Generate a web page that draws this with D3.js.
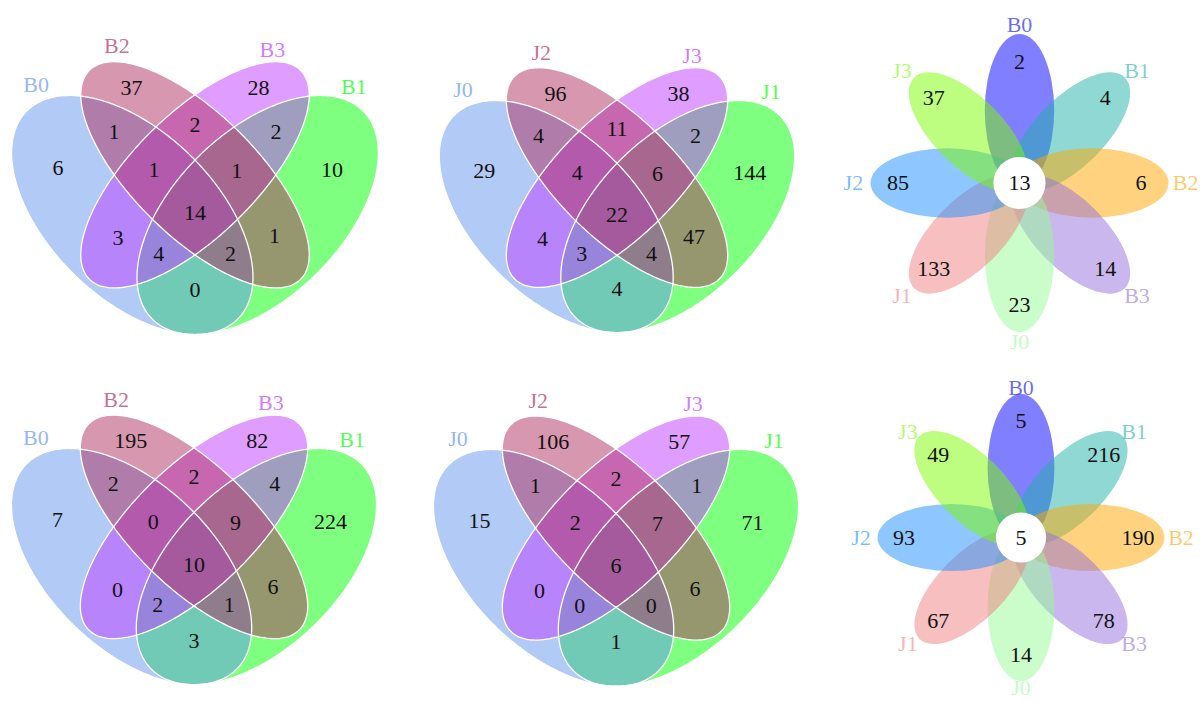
<!DOCTYPE html>
<html>
<head>
<meta charset="utf-8">
<script src="https://cdn.jsdelivr.net/npm/d3@7"></script>
<style>
  html, body { margin: 0; padding: 0; background: #ffffff; }
  svg { display: block; }
  text { font-family: "Liberation Serif", "Times New Roman", serif; }
</style>
</head>
<body>
<svg id="chart" width="1200" height="702"></svg>
<script>
// ---- Four-set Venn diagrams ----
// Set names in slot order: outer-left, inner-left, inner-right, outer-right
const vennSetsB = ["B0", "B2", "B3", "B1"];
const vennSetsJ = ["J0", "J2", "J3", "J1"];

// Region membership (slot indexes); the count arrays follow this order
const vennRegions = [
  [0], [1], [2], [3],
  [0, 1], [1, 2], [2, 3],
  [0, 1, 2], [1, 2, 3], [0, 1, 2, 3],
  [0, 2], [0, 2, 3], [0, 1, 3], [1, 3], [0, 3]
];
const countsBTop    = [6, 37, 28, 10, 1, 2, 2, 1, 1, 14, 3, 4, 2, 1, 0];
const countsJTop    = [29, 96, 38, 144, 4, 11, 2, 4, 6, 22, 4, 3, 4, 47, 4];
const countsBBottom = [7, 195, 82, 224, 2, 2, 4, 0, 9, 10, 0, 2, 1, 6, 3];
const countsJBottom = [15, 106, 57, 71, 1, 2, 1, 2, 7, 6, 0, 0, 0, 6, 1];

// ---- Flower diagrams ----
// Petals clockwise from the top
const flowerSets   = ["B0", "B1", "B2", "B3", "J0", "J1", "J2", "J3"];
const flowerTop    = [2, 4, 6, 14, 23, 133, 85, 37];
const flowerBottom = [5, 216, 190, 78, 14, 67, 93, 49];
const coreTop = 13;
const coreBottom = 5;

// ---------------------------------------------------------------
const svg = d3.select("#chart");
svg.append("rect").attr("width", 1200).attr("height", 702).attr("fill", "#ffffff");

const FONT = 22;

// Venn geometry in unit space (y up)
const vennEllipses = [
  { x: 0.35, y: 0.470, a: 0.356, b: 0.200, rot: 135 },
  { x: 0.50, y: 0.567, a: 0.357, b: 0.148, rot: 135 },
  { x: 0.50, y: 0.567, a: 0.357, b: 0.148, rot: 45 },
  { x: 0.65, y: 0.470, a: 0.356, b: 0.200, rot: 45 }
];
const vennFill = ["#6495ED", "#B03060", "#BF3EFF", "#00FF00"];
const vennDrawOrder = [3, 0, 2, 1];
const regionPos = [
  [0.172, 0.585], [0.348, 0.777], [0.652, 0.777], [0.828, 0.580],
  [0.306, 0.672], [0.500, 0.689], [0.694, 0.672],
  [0.402, 0.580], [0.600, 0.578], [0.500, 0.476],
  [0.316, 0.415], [0.413, 0.378], [0.585, 0.378], [0.690, 0.420], [0.500, 0.290]
];
const catPos = [[0.120, 0.785], [0.313, 0.879], [0.685, 0.870], [0.880, 0.780]];

function ellipsePoints(e) {
  const R = e.rot * Math.PI / 180;
  return d3.range(0, 360, 2).map(d => {
    const t = d * Math.PI / 180;
    return [
      e.x + e.a * Math.cos(t) * Math.cos(R) - e.b * Math.sin(t) * Math.sin(R),
      e.y + e.a * Math.cos(t) * Math.sin(R) + e.b * Math.sin(t) * Math.cos(R)
    ];
  });
}

function drawVenn(panel, sets, counts) {
  const x = d3.scaleLinear().domain([0, 1])
    .range([panel.cx - 0.5 * panel.sx, panel.cx + 0.5 * panel.sx]);
  const y = d3.scaleLinear().domain([0, 1])
    .range([panel.top + 0.755 * panel.sy, panel.top - 0.245 * panel.sy]);
  const line = d3.line().x(d => x(d[0])).y(d => y(d[1])).curve(d3.curveCardinalClosed.tension(0.5));
  const g = svg.append("g");

  g.selectAll("path.fill")
    .data(vennDrawOrder)
    .join("path")
    .attr("class", "fill")
    .attr("d", i => line(ellipsePoints(vennEllipses[i])))
    .attr("fill", i => vennFill[i])
    .attr("fill-opacity", 0.5)
    .attr("stroke", "none");

  g.selectAll("path.edge")
    .data(vennDrawOrder)
    .join("path")
    .attr("class", "edge")
    .attr("d", i => line(ellipsePoints(vennEllipses[i])))
    .attr("fill", "none")
    .attr("stroke", "#ffffff")
    .attr("stroke-width", 1.3);

  g.selectAll("text.count")
    .data(counts)
    .join("text")
    .attr("class", "count")
    .attr("x", (d, i) => x(regionPos[i][0]))
    .attr("y", (d, i) => y(regionPos[i][1]))
    .attr("dy", "0.34em")
    .attr("text-anchor", "middle")
    .attr("font-size", FONT)
    .attr("fill", "#111111")
    .text(d => d);

  g.selectAll("text.cat")
    .data(sets)
    .join("text")
    .attr("class", "cat")
    .attr("x", (d, i) => x(catPos[i][0]))
    .attr("y", (d, i) => y(catPos[i][1]))
    .attr("dy", "0.34em")
    .attr("text-anchor", "middle")
    .attr("font-size", FONT)
    .attr("fill", (d, i) => vennFill[i])
    .attr("fill-opacity", 0.7)
    .text(d => d);
}

drawVenn({ cx: 195, sx: 418, top: 97, sy: 414 }, vennSetsB, countsBTop);
drawVenn({ cx: 617, sx: 405, top: 102, sy: 402 }, vennSetsJ, countsJTop);
drawVenn({ cx: 194, sx: 416, top: 450, sy: 409 }, vennSetsB, countsBBottom);
drawVenn({ cx: 616, sx: 416, top: 451, sy: 410 }, vennSetsJ, countsJBottom);

// Flower plots
const petalFill = ["#0000FF", "#20B2AA", "#FFA500", "#9370DB", "#98FB98", "#F08080", "#1E90FF", "#7CFC00"];

function drawFlower(cx, cy, tip, nameRy, values, core) {
  const r = d3.scaleLinear().domain([0, 1]).range([0, tip]);
  const angle = d3.scaleLinear().domain([0, flowerSets.length]).range([-90, 270]);
  const g = svg.append("g").attr("transform", `translate(${cx},${cy})`);
  const rad = i => angle(i) * Math.PI / 180;

  g.selectAll("ellipse.petal")
    .data(values)
    .join("ellipse")
    .attr("class", "petal")
    .attr("cx", 0).attr("cy", 0)
    .attr("rx", r(0.514))
    .attr("ry", r(0.233))
    .attr("transform", (d, i) => `rotate(${angle(i)}) translate(${r(0.486)},0)`)
    .attr("fill", (d, i) => petalFill[i])
    .attr("fill-opacity", 0.5);

  g.selectAll("text.val")
    .data(values)
    .join("text")
    .attr("class", "val")
    .attr("x", (d, i) => r(0.815) * Math.cos(rad(i)))
    .attr("y", (d, i) => r(0.815) * Math.sin(rad(i)))
    .attr("dy", "0.34em")
    .attr("text-anchor", "middle")
    .attr("font-size", FONT)
    .attr("fill", "#111111")
    .text(d => d);

  g.selectAll("text.name")
    .data(flowerSets)
    .join("text")
    .attr("class", "name")
    .attr("x", (d, i) => r(1.115) * Math.cos(rad(i)))
    .attr("y", (d, i) => r(nameRy) * Math.sin(rad(i)))
    .attr("dy", "0.34em")
    .attr("text-anchor", "middle")
    .attr("font-size", FONT)
    .attr("fill", (d, i) => petalFill[i])
    .attr("fill-opacity", 0.6)
    .text(d => d);

  g.append("circle").attr("r", r(0.175)).attr("fill", "#ffffff");
  g.append("text")
    .attr("dy", "0.34em")
    .attr("text-anchor", "middle")
    .attr("font-size", FONT)
    .attr("fill", "#111111")
    .text(core);
}

drawFlower(1019.5, 183, 149, 1.065, flowerTop, coreTop);
drawFlower(1021, 537.5, 143.5, 1.045, flowerBottom, coreBottom);
</script>
</body>
</html>
